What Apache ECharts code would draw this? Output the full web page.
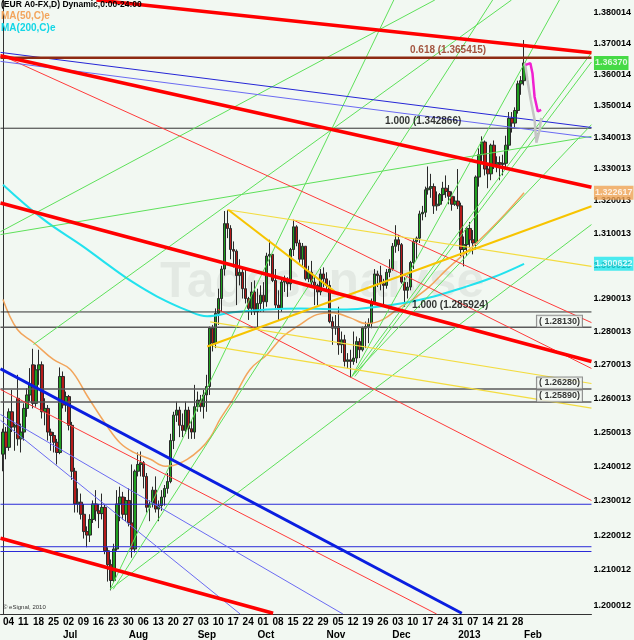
<!DOCTYPE html>
<html>
<head>
<meta charset="utf-8">
<script src="https://cdn.jsdelivr.net/npm/echarts@6/dist/echarts.min.js"></script>
<style>
  html, body { margin: 0; padding: 0; background: #f2f8f2; }
  #chart { width: 634px; height: 640px; }
</style>
</head>
<body>
<div id="chart"></div>
<script>
// one bar per weekday, index 0 = Mon 4 Jun 2012 ; [open, close, low, high]
const ohlc = [
  [1.2435,1.2500,1.2385,1.2510],[1.2500,1.2455,1.2420,1.2515],[1.2455,1.2560,1.2445,1.2570],[1.2560,1.2515,1.2500,1.2625],[1.2515,1.2520,1.2445,1.2525],
  [1.2600,1.2480,1.2460,1.2670],[1.2480,1.2500,1.2440,1.2525],[1.2500,1.2570,1.2475,1.2585],[1.2570,1.2610,1.2545,1.2630],[1.2610,1.2640,1.2590,1.2690],
  [1.2700,1.2585,1.2570,1.2748],[1.2585,1.2685,1.2575,1.2700],[1.2685,1.2700,1.2640,1.2745],[1.2700,1.2560,1.2540,1.2710],[1.2560,1.2570,1.2520,1.2600],
  [1.2570,1.2500,1.2475,1.2580],[1.2500,1.2490,1.2445,1.2510],[1.2490,1.2470,1.2440,1.2500],[1.2470,1.2440,1.2405,1.2480],[1.2440,1.2665,1.2435,1.2692],
  [1.2665,1.2580,1.2570,1.2680],[1.2580,1.2605,1.2560,1.2620],[1.2605,1.2520,1.2505,1.2610],[1.2520,1.2385,1.2360,1.2530],[1.2385,1.2290,1.2265,1.2395],
  [1.2290,1.2295,1.2265,1.2335],[1.2295,1.2260,1.2245,1.2320],[1.2260,1.2210,1.2190,1.2290],[1.2210,1.2200,1.2165,1.2225],[1.2200,1.2245,1.2180,1.2260],
  [1.2245,1.2290,1.2235,1.2300],[1.2290,1.2270,1.2240,1.2330],[1.2270,1.2262,1.2220,1.2290],[1.2262,1.2280,1.2245,1.2320],[1.2280,1.2155,1.2145,1.2290],
  [1.2155,1.2115,1.2067,1.2165],[1.2115,1.2070,1.2042,1.2130],[1.2070,1.2160,1.2065,1.2175],[1.2160,1.2290,1.2155,1.2330],[1.2290,1.2310,1.2240,1.2340],
  [1.2310,1.2260,1.2245,1.2325],[1.2260,1.2300,1.2240,1.2310],[1.2300,1.2235,1.2225,1.2335],[1.2235,1.2160,1.2135,1.2405],[1.2160,1.2385,1.2150,1.2390],
  [1.2385,1.2405,1.2370,1.2440],[1.2405,1.2410,1.2370,1.2443],[1.2410,1.2370,1.2335,1.2415],[1.2370,1.2280,1.2265,1.2380],[1.2280,1.2290,1.2240,1.2300],
  [1.2290,1.2330,1.2280,1.2340],[1.2330,1.2275,1.2265,1.2370],[1.2275,1.2285,1.2240,1.2300],[1.2285,1.2310,1.2270,1.2330],[1.2310,1.2335,1.2285,1.2345],
  [1.2335,1.2355,1.2320,1.2380],[1.2355,1.2475,1.2350,1.2495],[1.2475,1.2550,1.2450,1.2560],[1.2550,1.2565,1.2530,1.2590],[1.2565,1.2520,1.2485,1.2575],
  [1.2520,1.2505,1.2485,1.2555],[1.2505,1.2565,1.2495,1.2590],[1.2565,1.2510,1.2480,1.2575],[1.2510,1.2500,1.2480,1.2535],[1.2500,1.2575,1.2480,1.2640],
  [1.2575,1.2595,1.2560,1.2620],[1.2595,1.2575,1.2560,1.2610],[1.2575,1.2610,1.2540,1.2625],[1.2610,1.2635,1.2560,1.2670],[1.2635,1.2810,1.2610,1.2815],
  [1.2810,1.2765,1.2740,1.2820],[1.2765,1.2855,1.2750,1.2870],[1.2855,1.2900,1.2820,1.2930],[1.2900,1.2990,1.2860,1.3000],[1.2990,1.3130,1.2970,1.3169],
  [1.3130,1.3115,1.3085,1.3172],[1.3115,1.3050,1.3020,1.3125],[1.3050,1.3045,1.2995,1.3075],[1.3045,1.2970,1.2880,1.3050],[1.2970,1.2980,1.2940,1.3020],
  [1.2980,1.2930,1.2900,1.2990],[1.2930,1.2900,1.2885,1.2990],[1.2900,1.2870,1.2835,1.2905],[1.2870,1.2920,1.2850,1.2950],[1.2920,1.2860,1.2850,1.2955],
  [1.2860,1.2885,1.2806,1.2930],[1.2885,1.2910,1.2860,1.2940],[1.2910,1.2890,1.2860,1.2950],[1.2890,1.3030,1.2875,1.3040],[1.3030,1.3035,1.3000,1.3080],
  [1.3035,1.2955,1.2950,1.3035],[1.2955,1.2880,1.2870,1.2990],[1.2880,1.2870,1.2835,1.2925],[1.2870,1.2950,1.2860,1.2965],[1.2950,1.2955,1.2920,1.2970],
  [1.2955,1.2945,1.2905,1.2965],[1.2945,1.3050,1.2925,1.3055],[1.3050,1.3120,1.3030,1.3140],[1.3120,1.3070,1.3060,1.3125],[1.3070,1.3020,1.3010,1.3080],
  [1.3020,1.3060,1.3000,1.3070],[1.3060,1.2960,1.2955,1.3060],[1.2960,1.2980,1.2950,1.3000],[1.2980,1.2950,1.2935,1.3015],[1.2950,1.2940,1.2880,1.2970],
  [1.2940,1.2920,1.2880,1.2945],[1.2920,1.2975,1.2910,1.2990],[1.2975,1.2960,1.2935,1.2995],[1.2960,1.2940,1.2925,1.2980],[1.2940,1.2830,1.2825,1.2955],
  [1.2830,1.2810,1.2760,1.2845],[1.2810,1.2815,1.2790,1.2850],[1.2815,1.2760,1.2730,1.2875],[1.2760,1.2775,1.2735,1.2800],[1.2775,1.2710,1.2695,1.2790],
  [1.2710,1.2715,1.2690,1.2735],[1.2715,1.2710,1.2662,1.2745],[1.2710,1.2720,1.2700,1.2800],[1.2720,1.2770,1.2705,1.2785],[1.2770,1.2745,1.2720,1.2780],
  [1.2745,1.2810,1.2740,1.2815],[1.2810,1.2815,1.2750,1.2830],[1.2815,1.2825,1.2765,1.2840],[1.2825,1.2890,1.2810,1.2900],[1.2890,1.2975,1.2880,1.2990],
  [1.2975,1.2970,1.2935,1.2985],[1.2970,1.2945,1.2925,1.3000],[1.2945,1.2940,1.2880,1.2960],[1.2940,1.2980,1.2930,1.2990],[1.2980,1.2990,1.2965,1.3020],
  [1.2990,1.3060,1.2985,1.3070],[1.3060,1.3080,1.3040,1.3125],[1.3080,1.3065,1.3045,1.3095],[1.3065,1.2950,1.2945,1.3070],[1.2950,1.2925,1.2875,1.2965],
  [1.2925,1.2935,1.2900,1.2950],[1.2935,1.3010,1.2925,1.3015],[1.3010,1.3075,1.2990,1.3085],[1.3075,1.3085,1.3020,1.3090],[1.3085,1.3160,1.3070,1.3170],
  [1.3160,1.3165,1.3140,1.3185],[1.3165,1.3235,1.3150,1.3245],[1.3235,1.3240,1.3220,1.3308],[1.3240,1.3245,1.3210,1.3285],[1.3245,1.3185,1.3160,1.3255],
  [1.3185,1.3190,1.3170,1.3230],[1.3190,1.3220,1.3185,1.3225],[1.3220,1.3240,1.3200,1.3260],[1.3240,1.3230,1.3210,1.3280],[1.3230,1.3215,1.3190,1.3250],
  [1.3215,1.3190,1.3170,1.3230],[1.3190,1.3200,1.3185,1.3215],[1.3200,1.3185,1.3175,1.3300],[1.3185,1.3050,1.3030,1.3195],[1.3050,1.3065,1.2998,1.3090],
  [1.3065,1.3115,1.3030,1.3120],[1.3115,1.3080,1.3055,1.3135],[1.3080,1.3070,1.3035,1.3110],[1.3070,1.3275,1.3050,1.3280],[1.3275,1.3345,1.3245,1.3365],
  [1.3345,1.3385,1.3315,1.3403],[1.3385,1.3300,1.3280,1.3390],[1.3300,1.3285,1.3240,1.3315],[1.3285,1.3375,1.3265,1.3380],[1.3375,1.3315,1.3300,1.3390],
  [1.3315,1.3320,1.3290,1.3340],[1.3320,1.3315,1.3265,1.3340],[1.3315,1.3318,1.3280,1.3345],[1.3318,1.3375,1.3300,1.3405],[1.3375,1.3460,1.3360,1.3480],
  [1.3460,1.3445,1.3415,1.3480],[1.3445,1.3485,1.3430,1.3495],[1.3485,1.3570,1.3475,1.3580],[1.3570,1.3580,1.3535,1.3595],[1.3580,1.3637,1.3565,1.3711]
];

// moving averages: [bar index, value]
const ma50 = [
  [0,1.2897],[4.8,1.2806],[10.2,1.2767],[16.8,1.2716],[22.5,1.2686],[28.2,1.2606],[34.8,1.2517],[39.2,1.2467],
  [43.5,1.2441],[49.2,1.2420],[54.2,1.2400],[56.8,1.2402],[61.5,1.2420],[65.8,1.2449],[69.2,1.2484],[72.5,1.2538],
  [76.8,1.2597],[82.5,1.2686],[88.2,1.2731],[93.5,1.2785],[99.2,1.2821],[104.8,1.2851],[110.2,1.2857],[115.8,1.2842],
  [121.5,1.2824],[126.8,1.2836],[132.5,1.2873],[136.8,1.2897],[142.5,1.2937],[148.2,1.2989],[158.2,1.3071],[165.8,1.3141],[174,1.3226]
];
const ma200 = [
  [0,1.3251],[13.5,1.3143],[26.8,1.3059],[35.8,1.2998],[43.5,1.2949],[51.5,1.2906],[61.5,1.2864],[68.2,1.2846],
  [76.8,1.2858],[88.2,1.2867],[99.2,1.2870],[114.8,1.2867],[125.8,1.2876],[134.8,1.2888],[142.5,1.2903],
  [152.5,1.2930],[163.5,1.2964],[174,1.3006]
];

// last values shown as tags on the price axis
const tags = [
  { v: 1.3637, text: '1.36370', bg: '#19d219' },
  { v: 1.322617, text: '1.322617', bg: '#f0a254' },
  { v: 1.300622, text: '1.300622', bg: '#1ee6ee' }
];

// drawn projection paths after the last bar
const magentaPath = [[174.5,1.3631],[176.1,1.3636],[176.8,1.3604],[177.5,1.3529],[178.6,1.3482],[179.7,1.3487]];
const grayPath = [[174.3,1.3638],[175.1,1.3583],[176.2,1.3519],[177.5,1.3456],[178.1,1.3383],[179.2,1.3424],[179.7,1.3461]];

// trend lines [fromIndex, fromPrice, toIndex, toPrice]
const thickRedLines = [
  [31.2,1.3841,196.5,1.3670],[-0.83,1.3660,196.5,1.3243],[-0.83,1.3194,196.5,1.2710],[-0.83,1.2191,90.2,1.1977]
];
const thinRedLines = [
  [-0.83,1.3663,196.5,1.2827],[-0.83,1.2626,144.8,1.1975],[71.8,1.2867,196.5,1.2300],[96.8,1.3142,196.5,1.2689]
];
const thickBlueLines = [[-0.83,1.2688,153.2,1.1977]];
const blueLines = [[-0.83,1.3671,196.5,1.3431]];
const lightBlueLines = [[-0.83,1.3642,196.5,1.3399],[-0.83,1.2535,79.2,1.1975],[-0.83,1.2552,113.5,1.1975]];
const goldThickLines = [[75.2,1.3173,110.8,1.2921],[68.2,1.2755,196.5,1.3184]];
const goldThinLines = [[74.8,1.3173,196.5,1.2998],[69.2,1.2829,196.5,1.2644],[70.2,1.2755,196.5,1.2571]];
const greenLines = [
  [-0.83,1.3105,144.2,1.3841],[-0.83,1.3096,196.5,1.3403],[10.2,1.2761,169.8,1.3841],
  [35.8,1.2045,130.5,1.3841],[36.8,1.2045,163.5,1.3841],[35.8,1.2045,196.5,1.3127],
  [116.5,1.2665,185.8,1.3841],[116.5,1.2665,196.5,1.3670],[117.5,1.2665,196.5,1.3640],[116.5,1.2665,196.5,1.3440]
];

// horizontal levels
const fibLevels = [1.365415, 1.342866, 1.285924];
const fibNames = ['0.618', '1.000', '1.000'];
const fibLabelEnd = [161.5, 153.2, 162.2];
const boxLevels = [1.28130, 1.26280, 1.25890];
const blueLevels = [1.2289, 1.21665, 1.21528];

// axis ticks
const priceTicks = [1.200012,1.210012,1.220012,1.230012,1.240012,1.250013,1.260013,1.270013,1.280013,
  1.290013,1.300013,1.310013,1.320013,1.330013,1.340013,1.350014,1.360014,1.370014,1.380014];
const weekTicks = [];
for (let i = 0; i <= 170; i += 5) weekTicks.push(i);
const monthTicks = [20, 42, 65, 85, 108, 130, 152, 174];
const monthNames = ['Jul', 'Aug', 'Sep', 'Oct', 'Nov', 'Dec', '2013', 'Feb'];

const X_MIN = -0.833, X_MAX = 196.5;
const BOX_END = 193.5;

function dayOfMonth(i) {
  const days = Math.floor(i / 5) * 7 + (i % 5);
  const d = new Date(Date.UTC(2012, 5, 4) + days * 86400000);
  const n = d.getUTCDate();
  return n < 10 ? '0' + n : '' + n;
}

function lineSeries(points, color, width, z) {
  return {
    type: 'line', data: points, showSymbol: false, silent: true, animation: false, clip: true,
    z: z || 4, lineStyle: { color: color, width: width }
  };
}
function segSeries(list, color, width, z) {
  return list.map(s => lineSeries([[s[0], s[1]], [s[2], s[3]]], color, width, z));
}
function levelSeries(list, color, width) {
  return list.map(v => lineSeries([[X_MIN, v], [X_MAX, v]], color, width, 4));
}

const font = 'Arial, "Liberation Sans", sans-serif';
const chart = echarts.init(document.getElementById('chart'));

// text labels that sit on the levels
const labelData = [];
fibLevels.forEach((v, k) => {
  const brown = k === 0;
  labelData.push({
    value: [fibLabelEnd[k], v],
    label: {
      show: true, position: 'left', distance: 0, offset: [0, -7],
      formatter: fibNames[k] + ' (' + v.toFixed(6) + ')',
      color: brown ? '#8e2a12' : '#000', fontSize: 10, fontWeight: 'bold', fontFamily: font
    }
  });
});
boxLevels.forEach(v => {
  labelData.push({
    value: [BOX_END, v],
    label: {
      show: true, position: 'left', distance: 0, offset: [0, -6],
      formatter: '( ' + v.toFixed(5) + ')',
      color: '#000', fontSize: 9, fontWeight: 'bold', fontFamily: font, lineHeight: 11,
      backgroundColor: '#f2f8f2', borderColor: '#777', borderWidth: 1, padding: [0, 2, 0, 2]
    }
  });
});
tags.forEach(t => {
  labelData.push({
    value: [X_MAX, t.v],
    label: {
      show: true, position: 'right', distance: 2, formatter: t.text,
      color: '#fff', backgroundColor: t.bg, fontSize: 9, fontWeight: 'bold', fontFamily: font,
      lineHeight: 13, padding: [1, 1, 0, 1]
    }
  });
});

const series = [
  {
    type: 'candlestick',
    data: ohlc.map((b, i) => [i, b[0], b[1], b[2], b[3]]),
    encode: { x: 0, y: [1, 2, 3, 4] },
    barWidth: 3,
    z: 2,
    animation: false,
    itemStyle: { color: '#1f9e1f', color0: '#b51a1a', borderColor: '#2a2a2a', borderColor0: '#2a2a2a', borderWidth: 1 }
  },
  { type: 'line', data: ma50, smooth: 0.4, showSymbol: false, silent: true, animation: false, z: 3,
    lineStyle: { color: '#f2a55c', width: 1.5 } },
  { type: 'line', data: ma200, smooth: 0.4, showSymbol: false, silent: true, animation: false, z: 3,
    lineStyle: { color: '#22e2ee', width: 2 } }
]
  .concat(levelSeries(boxLevels, '#5a5a5a', 1.5))
  .concat(levelSeries(fibLevels.slice(1), '#333', 1))
  .concat(levelSeries(blueLevels, '#2a2ad8', 1))
  .concat(segSeries(greenLines, '#5ee05a', 1))
  .concat(segSeries(thinRedLines, '#ff3a3a', 1))
  .concat(segSeries(goldThinLines, '#f3dc40', 1.2))
  .concat(segSeries(goldThickLines, '#f7c400', 2))
  .concat(segSeries(lightBlueLines, '#6a6af2', 1))
  .concat(segSeries(blueLines, '#2525d6', 1))
  .concat(segSeries(thickBlueLines, '#0a1ee0', 3))
  .concat(levelSeries(fibLevels.slice(0, 1), '#8e2a12', 2.5))
  .concat(segSeries(thickRedLines, '#ff0000', 3.5))
  .concat([
    lineSeries(grayPath, '#c4c4c4', 2.5, 5),
    lineSeries(magentaPath, '#f020d0', 2.5, 5),
    {
      type: 'scatter', data: labelData, symbol: 'rect', symbolSize: 1, silent: true, animation: false,
      clip: false, z: 8, itemStyle: { color: 'rgba(0,0,0,0)' }
    }
  ]);

const option = {
  backgroundColor: '#f2f8f2',
  animation: false,
  grid: { left: 0, right: 42, top: 0, bottom: 25, containLabel: false },
  xAxis: [
    {
      type: 'value', min: X_MIN, max: X_MAX, position: 'bottom',
      axisLine: { show: true, lineStyle: { color: '#333', width: 1 } },
      axisTick: { show: false }, splitLine: { show: false },
      axisLabel: {
        customValues: weekTicks, formatter: v => dayOfMonth(Math.round(v)), align: 'left',
        color: '#000', fontSize: 10, fontWeight: 'bold', fontFamily: font, margin: 3
      }
    },
    {
      type: 'value', min: X_MIN, max: X_MAX, position: 'bottom', offset: 13,
      axisLine: { show: false }, axisTick: { show: false }, splitLine: { show: false },
      axisLabel: {
        customValues: monthTicks, formatter: v => monthNames[monthTicks.indexOf(Math.round(v))], align: 'left',
        color: '#000', fontSize: 10, fontWeight: 'bold', fontFamily: font, margin: 3
      }
    }
  ],
  yAxis: {
    type: 'log', logBase: 10, min: 1.1975, max: 1.3841, position: 'right',
    axisLine: { show: true, lineStyle: { color: '#333', width: 1 } },
    axisTick: { show: false }, splitLine: { show: false },
    axisLabel: {
      customValues: priceTicks, formatter: v => Number(v).toFixed(6),
      color: '#000', fontSize: 9, fontWeight: 'bold', fontFamily: font, margin: 2
    }
  },
  graphic: [
    { type: 'text', left: 160, top: 258, z: 1, silent: true,
      style: { text: 'Tagesanalyse', font: 'bold 50px Arial, "Liberation Sans"', fill: 'rgba(0,0,0,0.06)' } },
    { type: 'text', left: 1, top: 0, z: 10,
      style: { text: '(EUR A0-FX,D) Dynamic,0:00-24:00', font: 'bold 8.5px Arial, "Liberation Sans"', fill: '#000' } },
    { type: 'text', left: 1, top: 11, z: 10,
      style: { text: 'MA(50,C)e', font: 'bold 10px Arial, "Liberation Sans"', fill: '#f2a55c' } },
    { type: 'text', left: 1, top: 23, z: 10,
      style: { text: 'MA(200,C)e', font: 'bold 10px Arial, "Liberation Sans"', fill: '#14d6e6' } },
    { type: 'text', left: 3, top: 604, z: 10,
      style: { text: '© eSignal, 2010', font: '6px Arial, "Liberation Sans"', fill: '#333' } }
  ],
  series: series
};

chart.setOption(option);
</script>
</body>
</html>
